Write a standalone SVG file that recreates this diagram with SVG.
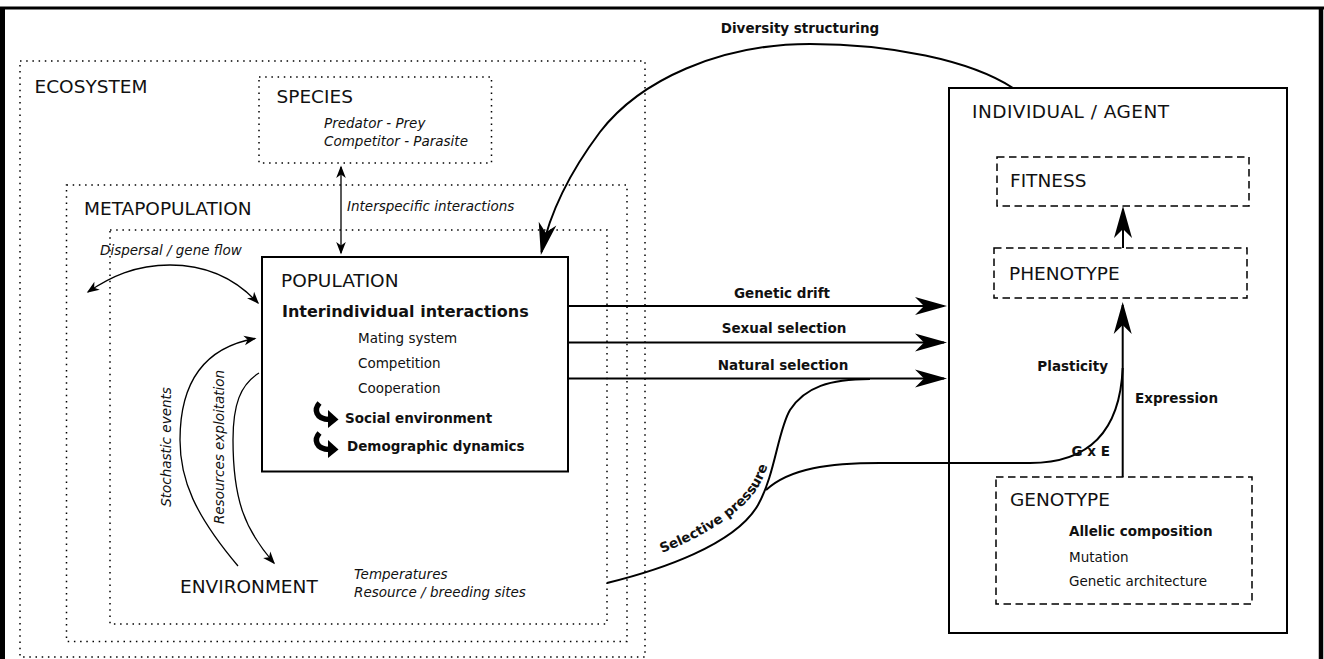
<svg xmlns="http://www.w3.org/2000/svg" width="1324" height="659" viewBox="0 0 1324 659">
<style>
text{font-family:"DejaVu Sans",Verdana,"Liberation Sans",sans-serif;fill:#111}
.title{font-size:18.5px}
.it{font-size:13.5px;font-style:italic}
.reg{font-size:13.5px}
.b{font-size:13.5px;font-weight:bold}
.bb{font-size:16px;font-weight:bold}
.dot{fill:none;stroke:#000;stroke-width:1.5;stroke-dasharray:1.5 4.7}
.dash{fill:none;stroke:#000;stroke-width:1.5;stroke-dasharray:7.5 4.5}
.box{fill:#fff;stroke:#000;stroke-width:2}
.thick{fill:none;stroke:#000;stroke-width:2}
.thin{fill:none;stroke:#000;stroke-width:1.3}
</style>
<defs>
<marker id="big" viewBox="-32 -10 36 20" refX="0" refY="0" markerWidth="36" markerHeight="20" markerUnits="userSpaceOnUse" orient="auto">
<path d="M3,0 L-29,-9 L-20,0 L-29,9 Z" fill="#000"/>
</marker>
<marker id="small" viewBox="-14 -6 17 12" refX="0" refY="0" markerWidth="17" markerHeight="12" markerUnits="userSpaceOnUse" orient="auto-start-reverse">
<path d="M1.5,0 L-11,-4.8 L-7.5,0 L-11,4.8 Z" fill="#000"/>
</marker>
<g id="curl">
<path d="M319.5,403 C314,409 315,419 330,419.5" fill="none" stroke="#000" stroke-width="5.5"/>
<path d="M328,410 L338.5,419.5 L328,428 Z" fill="#000"/>
</g>
</defs>

<g id="frame">
<line x1="0" y1="8" x2="1324" y2="8" stroke="#000" stroke-width="2.8"/>
<line x1="2.5" y1="7" x2="2.5" y2="659" stroke="#000" stroke-width="5"/>
<line x1="1321" y1="7" x2="1321" y2="659" stroke="#000" stroke-width="4.5"/>
</g>

<g id="ecosystem">
<rect class="dot" x="20" y="61" width="625" height="596"/>
<text class="title" x="34.5" y="93">ECOSYSTEM</text>
</g>

<g id="species">
<rect class="dot" x="259" y="77" width="232.5" height="86"/>
<text class="title" x="276.5" y="103">SPECIES</text>
<text class="it" x="324" y="128">Predator - Prey</text>
<text class="it" x="324" y="146">Competitor - Parasite</text>
</g>

<g id="metapopulation">
<rect class="dot" x="66.5" y="185" width="560.5" height="456.5"/>
<text class="title" x="84" y="215">METAPOPULATION</text>
</g>

<g id="habitat">
<rect class="dot" x="110" y="230" width="497" height="394"/>
</g>

<g id="population">
<rect class="box" x="262" y="257" width="306" height="214.5"/>
<text class="title" x="281" y="287">POPULATION</text>
<text class="bb" x="282" y="317">Interindividual interactions</text>
<text class="reg" x="358" y="343">Mating system</text>
<text class="reg" x="358" y="368">Competition</text>
<text class="reg" x="358" y="393">Cooperation</text>
<use href="#curl"/>
<text class="b" x="345" y="423">Social environment</text>
<use href="#curl" transform="translate(0,30)"/>
<text class="b" x="347" y="451">Demographic dynamics</text>
</g>

<g id="environment">
<text class="title" x="180" y="593">ENVIRONMENT</text>
<text class="it" x="354" y="579">Temperatures</text>
<text class="it" x="354" y="597">Resource / breeding sites</text>
</g>

<g id="individual">
<rect class="box" x="949" y="88" width="338" height="545"/>
<text class="title" x="972" y="118" textLength="197">INDIVIDUAL / AGENT</text>
</g>

<g id="fitness">
<rect class="dash" x="997" y="157" width="252" height="49"/>
<text class="title" x="1010" y="187">FITNESS</text>
</g>

<g id="phenotype">
<rect class="dash" x="994" y="248" width="253" height="50"/>
<text class="title" x="1009" y="280">PHENOTYPE</text>
</g>

<g id="genotype">
<rect class="dash" x="996" y="477" width="256" height="127"/>
<text class="title" x="1010" y="506">GENOTYPE</text>
<text class="b" x="1069" y="536">Allelic composition</text>
<text class="reg" x="1069" y="562">Mutation</text>
<text class="reg" x="1069" y="586">Genetic architecture</text>
</g>

<g id="connectors">
<path class="thick" d="M1013,88 C970,60 890,44 810,44 C720,44 640,80 600,132 C570,172 550,212 541.5,252" marker-end="url(#big)"/>
<text class="b" x="800" y="33" text-anchor="middle">Diversity structuring</text>

<line class="thin" x1="341" y1="167" x2="341" y2="253" marker-start="url(#small)" marker-end="url(#small)"/>
<text class="it" x="347" y="211">Interspecific interactions</text>

<path class="thin" d="M88,292 C110,277 135,265 170,265 C205,265 235,278 258,303" marker-start="url(#small)" marker-end="url(#small)"/>
<text class="it" x="100" y="255">Dispersal / gene flow</text>

<path class="thin" d="M238,566 C195,515 180,480 180,440 C180,385 202,348 255,338.5" marker-end="url(#small)"/>
<text class="it" transform="translate(171,447) rotate(-90)" text-anchor="middle">Stochastic events</text>

<path class="thin" d="M259,373 C240,385 233,405 233,440 C233,500 245,530 274,563" marker-end="url(#small)"/>
<text class="it" transform="translate(224,447) rotate(-90)" text-anchor="middle">Resources exploitation</text>

<line class="thick" x1="568" y1="306" x2="944" y2="306" marker-end="url(#big)"/>
<text class="b" x="782" y="298" text-anchor="middle">Genetic drift</text>
<line class="thick" x1="568" y1="342.5" x2="944" y2="342.5" marker-end="url(#big)"/>
<text class="b" x="784" y="333" text-anchor="middle">Sexual selection</text>
<line class="thick" x1="568" y1="378.5" x2="944" y2="378.5" marker-end="url(#big)"/>
<text class="b" x="783" y="370" text-anchor="middle">Natural selection</text>

<path class="thick" d="M607,583 C660,570 735,545 758,505 C775,475 778,430 790,410 C805,387 830,379 870,379"/>
<path class="thick" d="M766,490 C790,468 830,463 880,463 L1030,463 C1090,463 1120,430 1122.7,368"/>
<path id="sp" d="M662,553 C700,538 738,516 755,492 C762,482 767,470 770,458" fill="none"/>
<text class="b"><textPath href="#sp">Selective pressure</textPath></text>

<line class="thick" x1="1122.7" y1="477" x2="1122.7" y2="305" marker-end="url(#big)"/>
<text class="b" x="1108" y="371" text-anchor="end">Plasticity</text>
<text class="b" x="1135" y="403">Expression</text>
<text class="b" x="1110" y="456" text-anchor="end">G x E</text>
<line class="thick" x1="1123" y1="248" x2="1123" y2="209" marker-end="url(#big)"/>
</g>
</svg>
